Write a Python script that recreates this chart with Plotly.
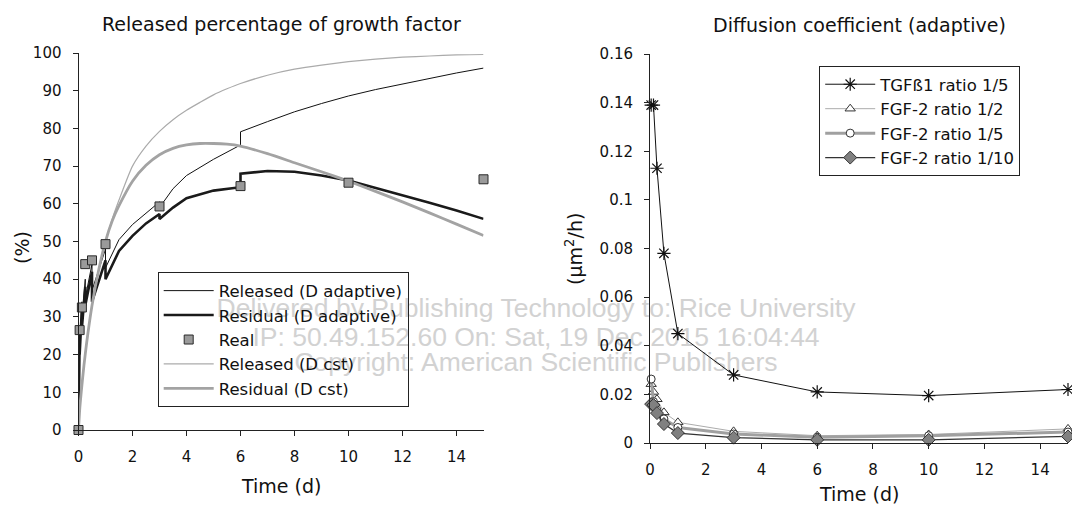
import plotly.graph_objects as go

# ---------------- Left chart data: released percentage (%) vs time (d) ----------------
t_rel_adapt = [0, 0.01, 0.042, 0.042, 0.125, 0.125, 0.25, 0.25, 0.5, 0.5, 1.0, 1.0, 1.5, 2.0, 2.5,
               3.0, 3.0, 3.5, 4.0, 5.0, 6.0, 6.0, 7.0, 8.0, 9.0, 10.0, 11.0, 12.0, 13.0, 14.0, 15.0]
v_rel_adapt = [0, 16, 26, 22, 34, 29, 40, 35, 44, 37, 48, 43, 50.5, 54.5, 57.5,
               60.5, 59, 64, 67.5, 71.8, 75.6, 79.1, 81.8, 84.4, 86.6, 88.6, 90.3, 91.8, 93.3, 94.7, 96]

t_res_adapt = [0, 0.01, 0.042, 0.042, 0.125, 0.125, 0.25, 0.25, 0.5, 0.5, 1.0, 1.0, 1.5, 2.0, 2.5,
               3.0, 3.0, 3.5, 4.0, 5.0, 6.0, 6.0, 7.0, 8.0, 9.0, 10.0, 11.0, 12.0, 13.0, 14.0, 15.0]
v_res_adapt = [0, 15, 24, 20, 32, 27, 38, 33, 42, 34, 45, 40, 47.5, 51.5, 54.8,
               57.3, 56, 59, 61.5, 63.5, 64.4, 68, 68.7, 68.5, 67.5, 66.2, 64.3, 62.3, 60.3, 58.2, 56]

t_real = [0, 0.042, 0.125, 0.25, 0.5, 1, 3, 6, 10, 15]
v_real = [0, 26.5, 32.5, 44, 45, 49.3, 59.3, 64.7, 65.6, 66.5]

t_cst = [0, 0.05, 0.1, 0.2, 0.3, 0.5, 0.75, 1, 1.25, 1.5, 2, 2.5, 3, 3.5, 4, 4.5, 5, 5.5, 6,
         7, 8, 9, 10, 11, 12, 13, 14, 15]
v_rel_cst = [0, 6, 10, 17, 23, 33, 42.5, 50, 56, 61, 70, 75.3, 79.2, 82.3, 84.8, 86.9, 88.9, 90.5, 91.9,
             94.1, 95.7, 96.8, 97.7, 98.4, 98.9, 99.2, 99.5, 99.6]
v_res_cst = [0, 6, 10, 17, 23, 33, 42.5, 50, 55.5, 59.5, 66, 70.2, 73, 74.7, 75.6, 76, 76, 75.8, 75.3,
             73.3, 70.9, 68.5, 66, 63.3, 60.5, 57.6, 54.6, 51.6]

left_yticks = [0, 10, 20, 30, 40, 50, 60, 70, 80, 90, 100]
xticks = [0, 2, 4, 6, 8, 10, 12, 14]

# ---------------- Right chart data: diffusion coefficient (um^2/h) vs time (d) ----------------
t_diff = [0.042, 0.125, 0.25, 0.5, 1, 3, 6, 10, 15]
d_tgf_1_5 = [0.139, 0.139, 0.113, 0.078, 0.045, 0.028, 0.021, 0.0195, 0.022]
d_fgf_1_2 = [0.0242, 0.021, 0.018, 0.0126, 0.0085, 0.0048, 0.003, 0.0035, 0.0058]
d_fgf_1_5 = [0.0263, 0.017, 0.0135, 0.0099, 0.0064, 0.0037, 0.0024, 0.003, 0.0045]
d_fgf_1_10 = [0.016, 0.0156, 0.0123, 0.0078, 0.0041, 0.0022, 0.0013, 0.0013, 0.0027]

right_yticks = [0, 0.02, 0.04, 0.06, 0.08, 0.1, 0.12, 0.14, 0.16]
right_yticktext = ["0", "0.02", "0.04", "0.06", "0.08", "0.1", "0.12", "0.14", "0.16"]

watermark = ["Delivered by Publishing Technology to: Rice University",
             "IP: 50.49.152.60 On: Sat, 19 Dec 2015 16:04:44",
             "Copyright: American Scientific Publishers"]

FONT = "DejaVu Sans, Verdana, sans-serif"
WM_FONT = "Liberation Sans, Arial, Helvetica, sans-serif"
W, H = 1072, 506

fig = go.Figure()

# Left chart traces
fig.add_trace(go.Scatter(x=t_rel_adapt, y=v_rel_adapt, mode="lines", name="Released (D adaptive)",
                         line=dict(color="#111111", width=1), legend="legend", legendrank=1,
                         xaxis="x", yaxis="y"))
fig.add_trace(go.Scatter(x=t_res_adapt, y=v_res_adapt, mode="lines", name="Residual (D adaptive)",
                         line=dict(color="#1a1a1a", width=2.6), legend="legend", legendrank=2,
                         xaxis="x", yaxis="y"))
fig.add_trace(go.Scatter(x=t_cst, y=v_rel_cst, mode="lines", name="Released (D cst)",
                         line=dict(color="#ababab", width=1.2, shape="spline", smoothing=0.6),
                         legend="legend", legendrank=4, xaxis="x", yaxis="y"))
fig.add_trace(go.Scatter(x=t_cst, y=v_res_cst, mode="lines", name="Residual (D cst)",
                         line=dict(color="#a3a3a3", width=2.8, shape="spline", smoothing=0.6),
                         legend="legend", legendrank=5, xaxis="x", yaxis="y"))
fig.add_trace(go.Scatter(x=t_real, y=v_real, mode="markers", name="Real",
                         marker=dict(symbol="square", size=9, color="#9a9a9a",
                                     line=dict(color="#2a2a2a", width=1)),
                         cliponaxis=False, legend="legend", legendrank=3,
                         xaxis="x", yaxis="y"))

# Right chart traces
fig.add_trace(go.Scatter(x=t_diff, y=d_tgf_1_5, mode="lines+markers", name="TGFß1 ratio 1/5",
                         line=dict(color="#111111", width=1),
                         marker=dict(symbol="asterisk-open", size=11,
                                     line=dict(color="#111111", width=1.2)),
                         cliponaxis=False, legend="legend2", xaxis="x2", yaxis="y2"))
fig.add_trace(go.Scatter(x=t_diff, y=d_fgf_1_2, mode="lines+markers", name="FGF-2 ratio 1/2",
                         line=dict(color="#acacac", width=1),
                         marker=dict(symbol="triangle-up", size=9, color="white",
                                     line=dict(color="#333333", width=1)),
                         cliponaxis=False, legend="legend2", xaxis="x2", yaxis="y2"))
fig.add_trace(go.Scatter(x=t_diff, y=d_fgf_1_5, mode="lines+markers", name="FGF-2 ratio 1/5",
                         line=dict(color="#a0a0a0", width=3),
                         marker=dict(symbol="circle", size=8, color="white",
                                     line=dict(color="#333333", width=1)),
                         cliponaxis=False, legend="legend2", xaxis="x2", yaxis="y2"))
fig.add_trace(go.Scatter(x=t_diff, y=d_fgf_1_10, mode="lines+markers", name="FGF-2 ratio 1/10",
                         line=dict(color="#333333", width=1.3),
                         marker=dict(symbol="diamond", size=10, color="#808080",
                                     line=dict(color="#333333", width=1)),
                         cliponaxis=False, legend="legend2", xaxis="x2", yaxis="y2"))

axis_common = dict(showline=True, linecolor="#222222", linewidth=1, ticks="outside", ticklen=5,
                   tickcolor="#222222", tickwidth=1, showgrid=False, zeroline=False,
                   automargin=False,
                   tickfont=dict(family=FONT, size=15, color="#111111"))

legend_common = dict(xanchor="left", yanchor="top", bgcolor="rgba(0,0,0,0)",
                     bordercolor="#222222", borderwidth=1,
                     font=dict(family=FONT, size=16.5, color="#111111"), tracegroupgap=0,
                     traceorder="normal", itemwidth=50)

fig.update_layout(
    width=W, height=H,
    margin=dict(l=0, r=0, t=0, b=0, autoexpand=False),
    paper_bgcolor="white", plot_bgcolor="rgba(0,0,0,0)",
    font=dict(family=FONT, color="#111111"),
    xaxis=dict(domain=[78.5 / W, 483.5 / W], range=[0, 15], tickvals=xticks,
               ticklabelstandoff=8, anchor="y", **axis_common),
    yaxis=dict(domain=[1 - 430 / H, 1 - 53 / H], range=[0, 100], tickvals=left_yticks,
               ticklabelstandoff=8, anchor="x", **axis_common),
    xaxis2=dict(domain=[650 / W, 1068 / W], range=[0, 15], tickvals=xticks,
                ticklabelstandoff=8, anchor="y2", **axis_common),
    yaxis2=dict(domain=[1 - 443 / H, 1 - 54 / H], range=[0, 0.16], tickvals=right_yticks,
                ticktext=right_yticktext, ticklabelstandoff=8, anchor="x2", **axis_common),
    legend=dict(x=157.7 / W, y=1 - 272.4 / H, **legend_common),
    legend2=dict(x=819.2 / W, y=1 - 66 / H, **legend_common),
    showlegend=True,
)

annots = [
    dict(text="Released percentage of growth factor", x=281 / W, y=1 - 24 / H, size=19),
    dict(text="Diffusion coefficient (adaptive)", x=859 / W, y=1 - 25 / H, size=19),
    dict(text="Time (d)", x=281 / W, y=1 - 486 / H, size=19),
    dict(text="Time (d)", x=859 / W, y=1 - 494 / H, size=19),
]
for a in annots:
    fig.add_annotation(text=a["text"], x=a["x"], y=a["y"], xref="paper", yref="paper",
                       xanchor="center", yanchor="middle", showarrow=False,
                       font=dict(family=FONT, size=a["size"], color="#111111"))

fig.add_annotation(text="(%)", x=22 / W, y=1 - 248 / H, xref="paper", yref="paper",
                   textangle=-90, showarrow=False, xanchor="center", yanchor="middle",
                   font=dict(family=FONT, size=19, color="#111111"))
fig.add_annotation(text="(µm<sup>2</sup>/h)", x=574 / W, y=1 - 249 / H, xref="paper", yref="paper",
                   textangle=-90, showarrow=False, xanchor="center", yanchor="middle",
                   font=dict(family=FONT, size=19, color="#111111"))

# Watermark drawn underneath everything (shape labels on the lower layer)
wm_y = [305, 334, 359]
for line, yy in zip(watermark, wm_y):
    fig.add_shape(type="rect", xref="paper", yref="paper", layer="below",
                  x0=136 / W, x1=936 / W, y0=1 - (yy + 12) / H, y1=1 - (yy - 12) / H,
                  line=dict(width=0), fillcolor="rgba(0,0,0,0)",
                  label=dict(text=line, textposition="middle center",
                             font=dict(family=WM_FONT, size=26.5, color="#d2d2d2")))

fig.write_html("out.html", config={"displayModeBar": False},
               post_script="document.body.style.margin='0';document.body.style.padding='0';")
